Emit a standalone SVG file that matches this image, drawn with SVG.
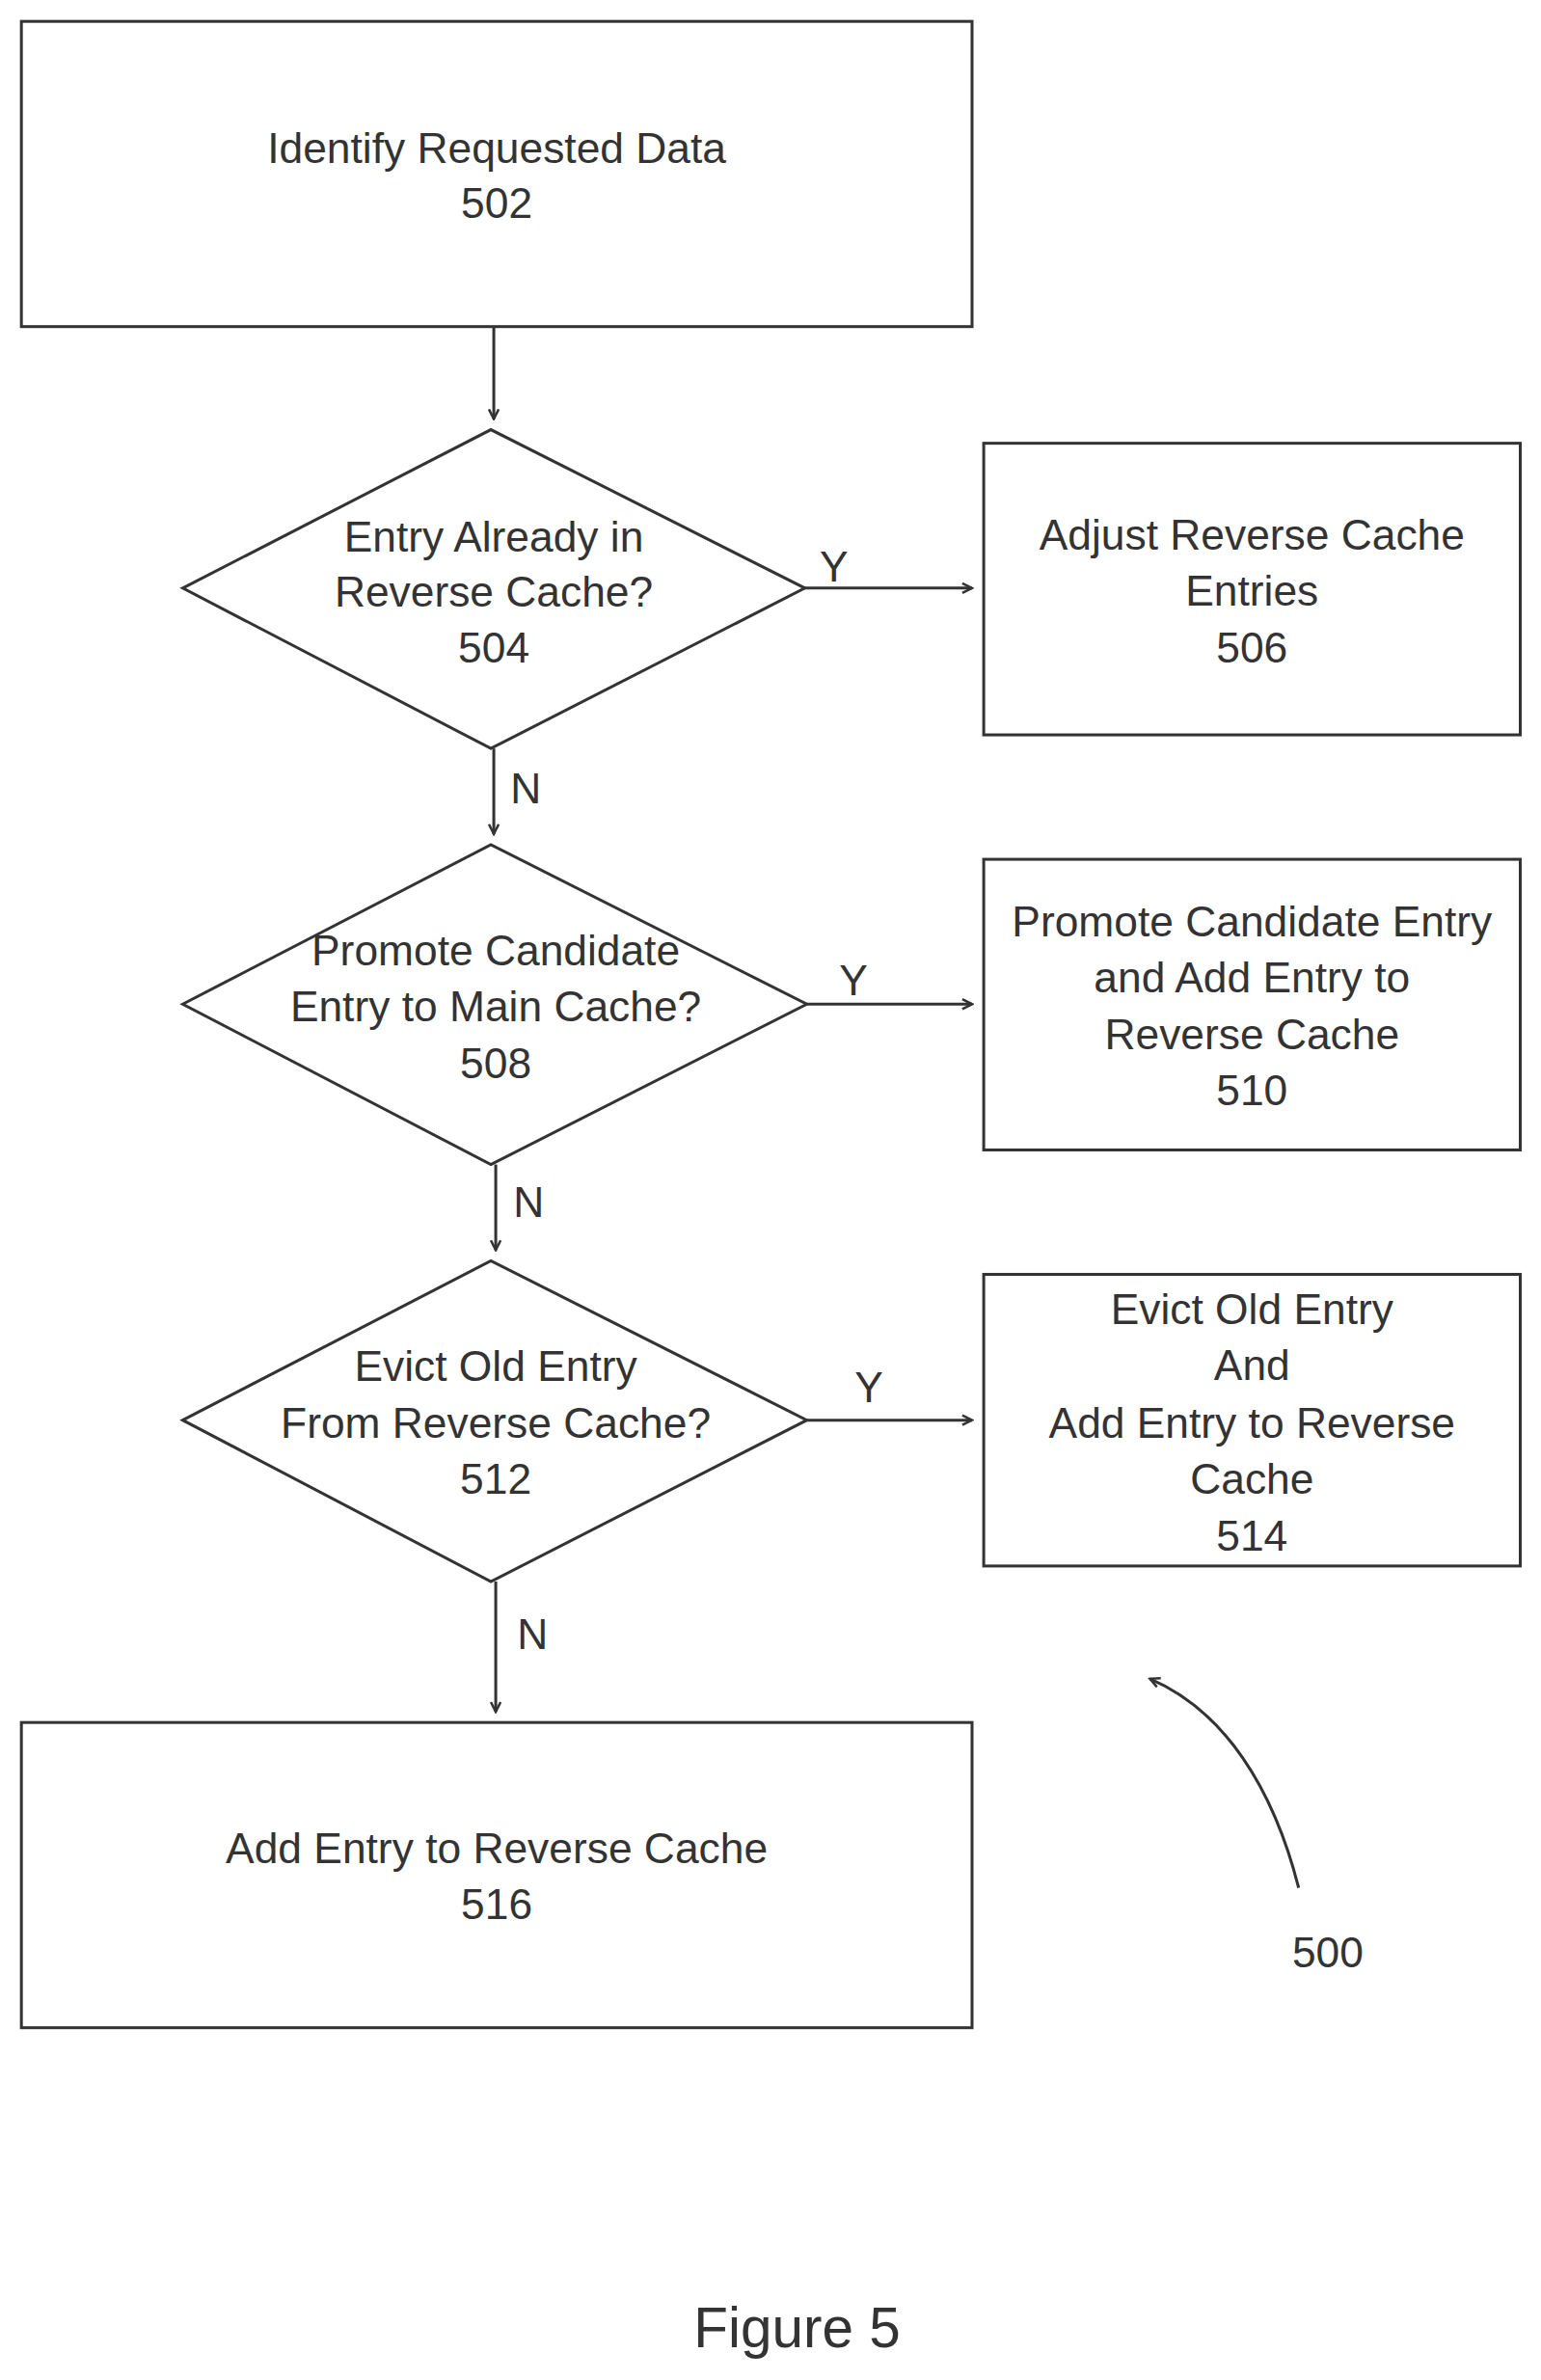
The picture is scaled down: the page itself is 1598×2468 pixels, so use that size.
<svg xmlns="http://www.w3.org/2000/svg" width="1598" height="2468" viewBox="0 0 1598 2468">
<style>
.s{fill:none;stroke:#333;stroke-width:3}
.t{font-family:"Liberation Sans",Arial,sans-serif;font-size:44px;fill:#333;text-anchor:middle}
.c{fill:none;stroke:#333;stroke-width:3;marker-end:url(#a)}
</style>
<defs><marker id="a" markerWidth="14" markerHeight="14" refX="12" refY="7" orient="auto" markerUnits="userSpaceOnUse"><path d="M2,2 L12,7 L2,12" fill="none" stroke="#333" stroke-width="2.5"/></marker></defs>
<rect width="1598" height="2468" fill="#fff"/>
<g transform="scale(1.008)">
<g id="n502"><rect class="s" x="22" y="22" width="978" height="314"/><text class="t" x="511" y="168">Identify Requested Data</text><text class="t" x="511" y="224">502</text></g>
<g id="n504"><polygon class="s" points="188,605 505,442 828,605 505,770"/><text class="t" x="508" y="567">Entry Already in</text><text class="t" x="508" y="624">Reverse Cache?</text><text class="t" x="508" y="682">504</text></g>
<g id="n506"><rect class="s" x="1012" y="456" width="552" height="300"/><text class="t" x="1288" y="565">Adjust Reverse Cache</text><text class="t" x="1288" y="623">Entries</text><text class="t" x="1288" y="682">506</text></g>
<g id="n508"><polygon class="s" points="188,1033 505,869 830,1033 505,1198"/><text class="t" x="510" y="993">Promote Candidate</text><text class="t" x="510" y="1051">Entry to Main Cache?</text><text class="t" x="510" y="1109">508</text></g>
<g id="n510"><rect class="s" x="1012" y="884" width="552" height="299"/><text class="t" x="1288" y="963">Promote Candidate Entry</text><text class="t" x="1288" y="1021">and Add Entry to</text><text class="t" x="1288" y="1079">Reverse Cache</text><text class="t" x="1288" y="1137">510</text></g>
<g id="n512"><polygon class="s" points="188,1461 505,1297 830,1461 505,1627"/><text class="t" x="510" y="1421">Evict Old Entry</text><text class="t" x="510" y="1479">From Reverse Cache?</text><text class="t" x="510" y="1537">512</text></g>
<g id="n514"><rect class="s" x="1012" y="1311" width="552" height="300"/><text class="t" x="1288" y="1362">Evict Old Entry</text><text class="t" x="1288" y="1420">And</text><text class="t" x="1288" y="1479">Add Entry to Reverse</text><text class="t" x="1288" y="1537">Cache</text><text class="t" x="1288" y="1595">514</text></g>
<g id="n516"><rect class="s" x="22" y="1772" width="978" height="314"/><text class="t" x="511" y="1917">Add Entry to Reverse Cache</text><text class="t" x="511" y="1974">516</text></g>
<g id="connectors">
<line class="c" x1="508" y1="336" x2="508" y2="431"/>
<line class="c" x1="828" y1="605" x2="1000" y2="605"/>
<line class="c" x1="508" y1="770" x2="508" y2="858"/>
<line class="c" x1="830" y1="1033" x2="1000" y2="1033"/>
<line class="c" x1="510" y1="1198" x2="510" y2="1286"/>
<line class="c" x1="830" y1="1461" x2="1000" y2="1461"/>
<line class="c" x1="510" y1="1627" x2="510" y2="1761"/>
<path class="c" d="M1336,1942 C1310,1840 1260,1760 1183,1727"/>
<text class="t" x="858" y="598">Y</text>
<text class="t" x="878" y="1024">Y</text>
<text class="t" x="894" y="1442">Y</text>
<text class="t" x="541" y="826">N</text>
<text class="t" x="544" y="1252">N</text>
<text class="t" x="548" y="1696">N</text>
</g>
<text class="t" x="1366" y="2024">500</text>
<text class="t" x="820" y="2415" style="font-size:58px">Figure 5</text>
</g>
</svg>
